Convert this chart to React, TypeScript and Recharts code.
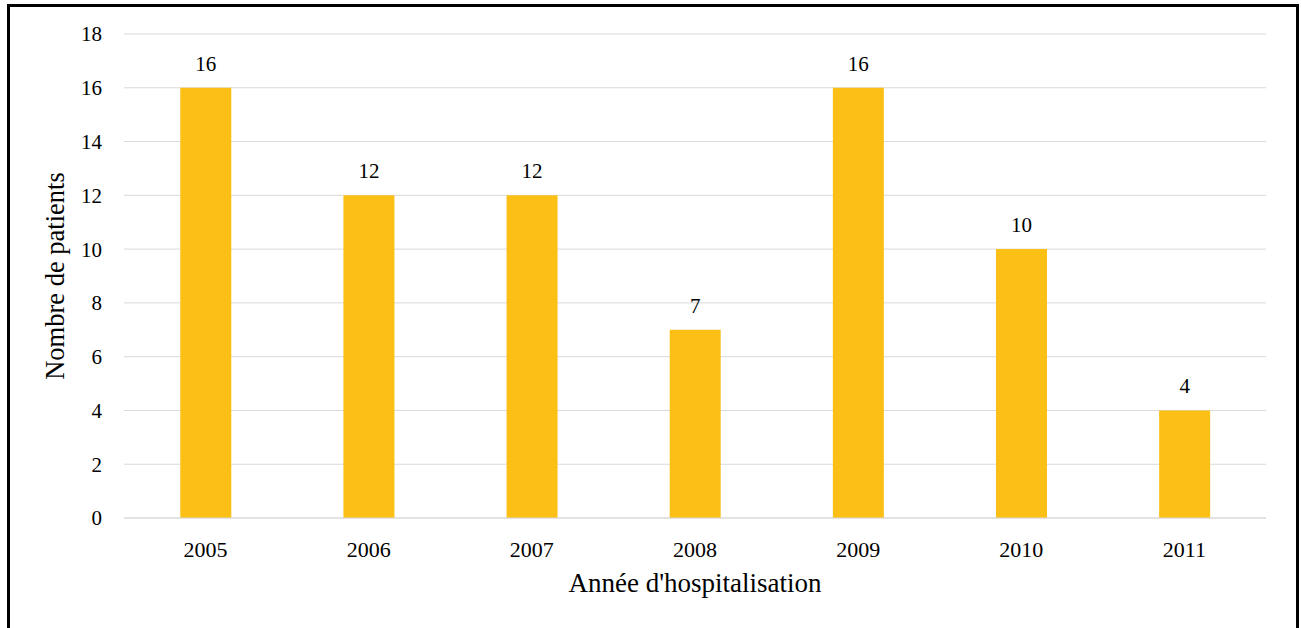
import React from 'react';
import { BarChart, Bar, XAxis, YAxis, CartesianGrid, LabelList, Label } from 'recharts';

const years = ['2005', '2006', '2007', '2008', '2009', '2010', '2011'];
const patients = [16, 12, 12, 7, 16, 10, 4];
const yTicks = [0, 2, 4, 6, 8, 10, 12, 14, 16, 18];

const data = years.map((year, i) => ({ year, patients: patients[i] }));

const font = '"Liberation Serif", "Times New Roman", serif';

const App: React.FC = () => {
  return (
    <div style={{ position: 'absolute', left: 0, top: 0, width: 1301, height: 628, overflow: 'hidden', background: '#fff' }}>
      <div
        style={{
          position: 'absolute',
          left: 7,
          top: 4,
          width: 1286,
          height: 700,
          border: '3px solid #000',
        }}
      />
      <div style={{ position: 'absolute', left: 0, top: 0 }}>
        <BarChart
          width={1301}
          height={628}
          data={data}
          margin={{ top: 34, right: 35, bottom: 0, left: 0 }}
          barCategoryGap="34.5%"
        >
          <CartesianGrid vertical={false} stroke="#d9d9d9" strokeWidth={1} />
          <XAxis
            dataKey="year"
            axisLine={{ stroke: '#d9d9d9' }}
            tickLine={false}
            tickMargin={17}
            tick={{ fill: '#000', fontSize: 22, fontFamily: font }}
            height={110}
          >
            <Label
              value="Année d'hospitalisation"
              position="insideTop"
              offset={55}
              style={{ fill: '#000', fontSize: 27, fontFamily: font }}
            />
          </XAxis>
          <YAxis
            domain={[0, 18]}
            ticks={yTicks}
            axisLine={false}
            tickLine={false}
            tickMargin={16}
            width={124}
            tick={{ fill: '#000', fontSize: 21, fontFamily: font }}
          >
            <Label
              value="Nombre de patients"
              angle={-90}
              position="insideLeft"
              offset={55}
              style={{ fill: '#000', fontSize: 26.5, fontFamily: font, textAnchor: 'middle' }}
            />
          </YAxis>
          <Bar dataKey="patients" fill="#FBBF16" isAnimationActive={false}>
            <LabelList
              dataKey="patients"
              position="top"
              offset={17}
              style={{ fill: '#000', fontSize: 21, fontFamily: font }}
            />
          </Bar>
        </BarChart>
      </div>
    </div>
  );
};

export default App;
